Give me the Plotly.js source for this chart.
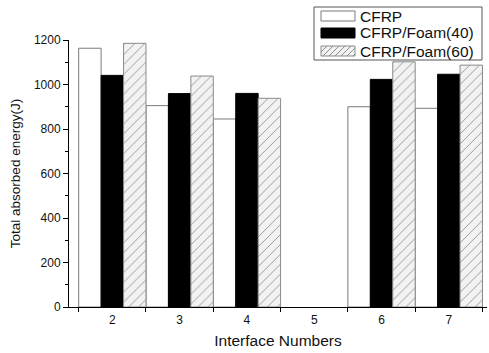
<!DOCTYPE html>
<html>
<head>
<meta charset="utf-8">
<script src="https://cdn.plot.ly/plotly-3.0.1.min.js"></script>
<style>html,body{margin:0;padding:0;background:#fff}#chart{width:489px;height:353px}</style>
</head>
<body>
<div id="chart"></div>
<script>
const categories = [2, 3, 4, 5, 6, 7];
const seriesNames = ["CFRP", "CFRP/Foam(40)", "CFRP/Foam(60)"];
const cfrp = [1163, 905, 845, null, 900, 893];
const foam40 = [1041, 959, 960, null, 1023, 1046];
const foam60 = [1185, 1038, 938, null, 1102, 1087];
const yTicks = [0, 200, 400, 600, 800, 1000, 1200];
const xMinorTicks = [1.5, 2.5, 3.5, 4.5, 5.5, 6.5, 7.5];

const font = "Arial, 'Liberation Sans', sans-serif";
const W = 489, H = 353, M = {l: 69, r: 2, t: 40, b: 46};
const pw = W - M.l - M.r, ph = H - M.t - M.b;
const px = v => (v - M.l) / pw;          // pixel x -> paper
const py = v => (H - M.b - v) / ph;      // pixel y -> paper

const styles = [
  {fill: '#ffffff', line: '#7a7a7a'},
  {fill: '#000000', line: '#000000'},
  {fill: '#f2f2f2', line: '#8a8a8a', hatch: true}
];
const traces = [
  {type: 'bar', name: seriesNames[0], x: categories, y: cfrp, showlegend: false,
   marker: {color: styles[0].fill, line: {color: styles[0].line, width: 1}}},
  {type: 'bar', name: seriesNames[1], x: categories, y: foam40, showlegend: false,
   marker: {color: styles[1].fill, line: {color: styles[1].line, width: 1}}},
  {type: 'bar', name: seriesNames[2], x: categories, y: foam60, showlegend: false,
   marker: {color: styles[2].fill, line: {color: styles[2].line, width: 1},
            pattern: {shape: '/', fgcolor: '#8c8c8c', bgcolor: '#f2f2f2', size: 7, solidity: 0.12}}}
];

// custom legend (wide swatches as in the original)
const shapes = [{type: 'rect', xref: 'paper', yref: 'paper', x0: px(314), x1: px(482), y0: py(60), y1: py(7),
                 line: {color: '#555', width: 1}, fillcolor: '#fff', layer: 'above'}];
const annotations = [];
const rowY = [16, 33, 51];
const sx0 = 321, sx1 = 355, sh = 10;
seriesNames.forEach((n, i) => {
  const top = rowY[i] - sh / 2, bot = rowY[i] + sh / 2;
  shapes.push({type: 'rect', xref: 'paper', yref: 'paper', x0: px(sx0), x1: px(sx1), y0: py(bot), y1: py(top),
               line: {color: styles[i].line, width: 1}, fillcolor: styles[i].fill, layer: 'above'});
  if (styles[i].hatch) {
    let d = '';
    for (let a = sx0 - sh; a < sx1; a += 6) {
      let xa = a, ya = bot, xb = a + sh, yb = top;
      if (xa < sx0) { ya = bot - (sx0 - xa); xa = sx0; }
      if (xb > sx1) { yb = top + (xb - sx1); xb = sx1; }
      d += `M${px(xa)},${py(ya)}L${px(xb)},${py(yb)}`;
    }
    shapes.push({type: 'path', xref: 'paper', yref: 'paper', path: d, line: {color: '#8c8c8c', width: 1}, layer: 'above'});
  }
  annotations.push({xref: 'paper', yref: 'paper', x: px(358), y: py(rowY[i]), xanchor: 'left', yanchor: 'middle',
                    text: n, showarrow: false, font: {size: 15.5, family: font, color: '#111'}});
});

const layout = {
  width: W, height: H,
  margin: M,
  paper_bgcolor: '#fff', plot_bgcolor: '#fff',
  font: {family: font, color: '#111', size: 12},
  barmode: 'group', bargap: 0, bargroupgap: 0,
  showlegend: false,
  shapes: shapes, annotations: annotations,
  xaxis: {range: [1.356, 7.567], tickvals: categories, ticktext: categories.map(String),
          ticks: '', showgrid: false, zeroline: false, showline: true, linecolor: '#000', linewidth: 1,
          tickfont: {size: 12}, ticklabelstandoff: 2,
          minor: {tickvals: xMinorTicks, ticks: 'outside', ticklen: 4, tickcolor: '#000', showgrid: false},
          title: {text: 'Interface Numbers', font: {size: 15.5}, standoff: 8}},
  yaxis: {range: [0, 1200], tickvals: yTicks, ticks: 'outside', ticklen: 5, tickcolor: '#000',
          showgrid: false, zeroline: false, showline: true, linecolor: '#000', linewidth: 1,
          tickfont: {size: 12},
          minor: {dtick: 100, ticks: 'outside', ticklen: 3, tickcolor: '#000', showgrid: false},
          title: {text: 'Total absorbed energy(J)', font: {size: 13.5}, standoff: 10}}
};
Plotly.newPlot('chart', traces, layout, {displayModeBar: false, staticPlot: true});
</script>
</body>
</html>
